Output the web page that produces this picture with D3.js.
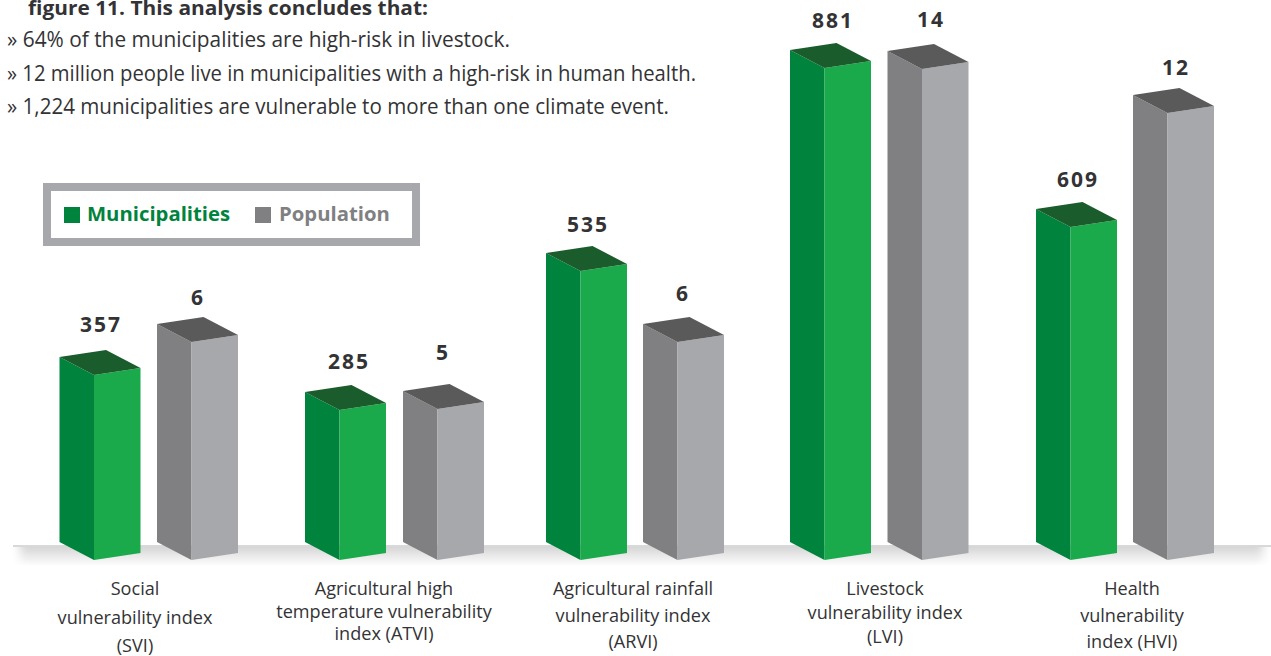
<!DOCTYPE html>
<html>
<head>
<meta charset="utf-8">
<script src="https://cdnjs.cloudflare.com/ajax/libs/d3/7.8.5/d3.min.js"></script>
<style>
	html, body { margin: 0; padding: 0; background: #fff; }
	svg { display: block; }
	text { font-family: "Open Sans", Lato, sans-serif; fill: #333335; font-variant-ligatures: none; }
</style>
</head>
<body>
<div id="plot"></div>
<script>

var categories = ["SVI", "ATVI", "ARVI", "LVI", "HVI"];
var municipalities = [357, 285, 535, 881, 609];
var population = [6, 5, 6, 14, 12];

var categoryLabels = [
	["Social", "vulnerability index", "(SVI)"],
	["Agricultural high", "temperature vulnerability", "index (ATVI)"],
	["Agricultural rainfall", "vulnerability index", "(ARVI)"],
	["Livestock", "vulnerability index", "(LVI)"],
	["Health", "vulnerability", "index (HVI)"]
];
var labelLeading = [28.5, 22.5, 26.5, 24, 26.5];
var labelCentres = [135, 384, 633, 885, 1132];

var heading = "figure 11. This analysis concludes that:";
var bullets = [
	"» 64% of the municipalities are high-risk in livestock.",
	"» 12 million people live in municipalities with a high-risk in human health.",
	"» 1,224 municipalities are vulnerable to more than one climate event."
];
var bulletWidths = [503, 689, 662];
var seriesNames = ["Municipalities", "Population"];

// small hand nudges for the value labels, the report places them by eye
var muniNudge = [[1, -1], [3.5, 1], [1.5, 3], [2.5, 2], [1.5, 2]];
var popNudge = [[0.5, 5], [-0.5, -7], [-0.5, 1], [3, 0], [2.5, 4]];

var width = 1271, height = 656;
var baseY = 560;

var svg = d3.select("#plot").append("svg")
	.attr("width", width)
	.attr("height", height);

// the bars in the report are not quite proportional, so the scales follow the picture
var yMuni = d3.scaleLinear()
	.domain([0, 285, 357, 535, 609, 881])
	.range([baseY, 410, 375, 271, 227, 68]);
var yPop = d3.scaleLinear()
	.domain([0, 5, 6, 12, 14])
	.range([baseY, 409, 342, 113, 69]);

// front edge of each bar
var xMuni = d3.scaleOrdinal().domain(categories).range([94, 339.5, 580.5, 824.5, 1070.5]);
var xPop = d3.scaleOrdinal().domain(categories).range([191.5, 437.5, 677.5, 922, 1167.5]);

var colours = {
	muni: { left: "#00843d", right: "#1aaa4b", top: "#1a5c2b" },
	pop: { left: "#808082", right: "#a7a8ab", top: "#5a5a5b" }
};

// box offsets from the front edge
var leftW = 34.5, leftH = 18, rightW = 46.5, rightH = 7, backW = 12, backH = 25;

var defs = svg.append("defs");
var grad = defs.append("linearGradient")
	.attr("id", "floor")
	.attr("x1", 0).attr("y1", 0).attr("x2", 0).attr("y2", 1);
grad.append("stop").attr("offset", "0%").attr("stop-color", "#d6d6d6");
grad.append("stop").attr("offset", "100%").attr("stop-color", "#ffffff");
defs.append("filter").attr("id", "soft")
	.attr("x", "-5%").attr("width", "110%")
	.append("feGaussianBlur").attr("stdDeviation", "5 0");
defs.append("clipPath").attr("id", "page")
	.append("rect").attr("x", 0).attr("y", 546).attr("width", width).attr("height", 30);

svg.append("g").attr("clip-path", "url(#page)")
	.append("rect")
	.attr("x", 20).attr("y", 547)
	.attr("width", width - 28).attr("height", 19)
	.attr("fill", "url(#floor)")
	.attr("filter", "url(#soft)");
svg.append("line")
	.attr("x1", 13).attr("x2", width)
	.attr("y1", 546).attr("y2", 546)
	.attr("stroke", "#b1b2b3")
	.attr("stroke-width", 1);

function poly(points){
	return points.map(function(p){ return p.join(","); }).join(" ");
}

function drawBars(values, x, y, col, cls, nudge){
	var g = svg.selectAll("g." + cls)
		.data(values)
		.enter().append("g")
		.attr("class", cls);

	g.append("polygon")
		.attr("fill", col.left)
		.attr("points", function(d, i){
			var fx = x(categories[i]), t = y(d);
			return poly([[fx - leftW, t - leftH], [fx, t], [fx, baseY], [fx - leftW, baseY - leftH]]);
		});
	g.append("polygon")
		.attr("fill", col.right)
		.attr("points", function(d, i){
			var fx = x(categories[i]), t = y(d);
			return poly([[fx, t], [fx + rightW, t - rightH], [fx + rightW, baseY - rightH], [fx, baseY]]);
		});
	g.append("polygon")
		.attr("fill", col.top)
		.attr("points", function(d, i){
			var fx = x(categories[i]), t = y(d);
			return poly([[fx, t], [fx - leftW, t - leftH], [fx + backW, t - backH], [fx + rightW, t - rightH]]);
		});
	g.append("text")
		.text(function(d){ return d3.format(",")(d); })
		.attr("x", function(d, i){ return x(categories[i]) + 6 + nudge[i][0]; })
		.attr("y", function(d, i){ return y(d) - backH - 17 + nudge[i][1]; })
		.attr("text-anchor", "middle")
		.style("font-size", "21px")
		.style("font-weight", 700)
		.style("letter-spacing", "2px");
}

drawBars(municipalities, xMuni, yMuni, colours.muni, "muni", muniNudge);
drawBars(population, xPop, yPop, colours.pop, "pop", popNudge);

// category labels under the floor
categoryLabels.forEach(function(lines, i){
	svg.append("text")
		.attr("text-anchor", "middle")
		.style("font-size", "18.1px")
		.selectAll("tspan")
		.data(lines)
		.enter().append("tspan")
		.attr("x", labelCentres[i])
		.attr("y", function(d, j){ return 595 + j * labelLeading[i]; })
		.text(function(d){ return d; });
});

// text block at the top
svg.append("text")
	.text(heading)
	.attr("x", 28).attr("y", 15)
	.attr("textLength", 400)
	.attr("lengthAdjust", "spacingAndGlyphs")
	.style("font-size", "20px")
	.style("font-weight", 700);
svg.selectAll("text.bullet")
	.data(bullets)
	.enter().append("text")
	.attr("class", "bullet")
	.text(function(d){ return d; })
	.attr("x", 7)
	.attr("y", function(d, i){ return 47 + i * 33.5; })
	.attr("textLength", function(d, i){ return bulletWidths[i]; })
	.attr("lengthAdjust", "spacingAndGlyphs")
	.style("font-size", "21px");

// legend
svg.append("rect")
	.attr("x", 47).attr("y", 187)
	.attr("width", 369).attr("height", 55)
	.attr("fill", "#fff")
	.attr("stroke", "#a7a8ab")
	.attr("stroke-width", 8);
var legendX = [64, 255];
var legendCol = [colours.muni.left, colours.pop.left];
seriesNames.forEach(function(name, i){
	svg.append("rect")
		.attr("x", legendX[i]).attr("y", 207)
		.attr("width", 16).attr("height", 16)
		.attr("fill", legendCol[i]);
	svg.append("text")
		.text(name)
		.attr("x", legendX[i] + 23 + i).attr("y", 221)
		.style("font-size", "20.3px")
		.style("font-weight", 700)
		.style("fill", legendCol[i]);
});

</script>
</body>
</html>
